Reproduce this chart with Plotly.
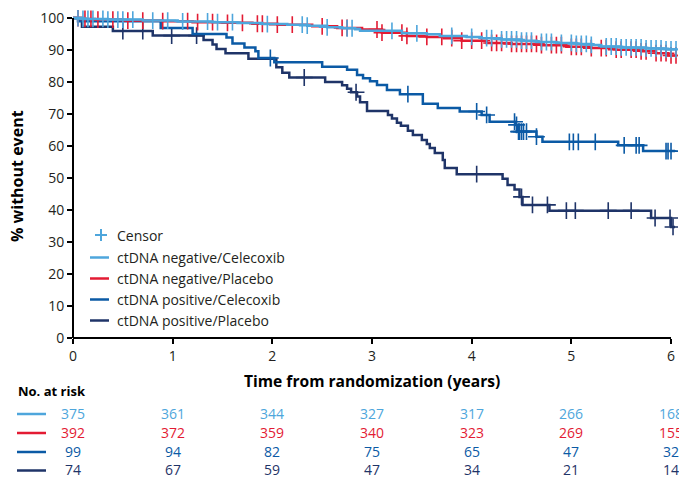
import numpy as np
import plotly.graph_objects as go

# ---------------- data ----------------
series_names = ["ctDNA negative/Celecoxib", "ctDNA negative/Placebo",
                "ctDNA positive/Celecoxib", "ctDNA positive/Placebo"]
series_colors = ["#4EA6DC", "#E31B33", "#0B5AA5", "#1F3468"]

neg_cel_t = [0.10, 0.35, 0.70, 1.05, 1.40, 1.65, 1.90, 2.15, 2.35, 2.55, 2.70, 2.83, 2.88,
             3.30, 3.55, 3.68, 3.95, 4.10, 4.30, 4.50, 4.65, 4.85, 5.05, 5.20, 5.30, 5.50,
             5.75, 5.95]
neg_cel_s = [99.7, 99.5, 99.2, 98.9, 98.7, 98.4, 98.1, 97.9, 97.6, 97.1, 96.8, 96.5, 96.0,
             95.2, 94.9, 94.4, 94.1, 93.7, 93.3, 92.9, 92.5, 92.2, 91.9, 91.6, 91.1, 90.8,
             90.5, 90.2]
neg_cel_cens = [0.05, 0.10, 0.15, 0.20, 0.30, 0.35, 0.45, 0.50, 0.60, 0.80, 0.95, 1.10, 1.35,
                1.45, 1.60, 1.95, 2.30, 2.35, 2.55, 2.75, 2.80, 3.20, 3.45, 3.80, 4.00, 4.15,
                4.20, 4.30, 4.35, 4.40, 4.45, 4.50, 4.55, 4.60, 4.70, 4.75, 4.80, 4.90, 5.00,
                5.05, 5.10, 5.15, 5.20, 5.35, 5.40, 5.45, 5.50, 5.55, 5.60, 5.65, 5.70, 5.75,
                5.80, 5.85, 5.90, 5.95, 6.00, 6.05]
neg_cel_end = 6.06

neg_pla_t = [0.08, 0.22, 0.50, 0.90, 1.20, 1.50, 1.80, 2.05, 2.40, 2.65, 2.90, 3.10, 3.35,
             3.55, 3.72, 3.90, 4.15, 4.40, 4.70, 4.95, 5.20, 5.45, 5.70, 5.85, 5.97]
neg_pla_s = [99.7, 99.5, 99.2, 99.0, 98.7, 98.5, 98.2, 97.9, 97.4, 96.9, 96.4, 95.4, 94.4,
             94.1, 93.7, 92.9, 92.2, 91.9, 91.5, 91.0, 90.6, 90.1, 89.6, 89.0, 88.3]
neg_pla_cens = [0.05, 0.12, 0.18, 0.25, 0.40, 0.55, 0.70, 0.90, 1.15, 1.25, 1.40, 1.55, 1.70,
                1.85, 1.90, 2.05, 2.20, 2.50, 2.70, 2.75, 3.05, 3.10, 3.30, 3.35, 3.55, 3.70,
                3.80, 3.90, 4.00, 4.10, 4.20, 4.25, 4.30, 4.40, 4.45, 4.50, 4.55, 4.60, 4.65,
                4.70, 4.80, 4.85, 4.90, 5.00, 5.05, 5.10, 5.20, 5.30, 5.35, 5.45, 5.50, 5.60,
                5.65, 5.70, 5.75, 5.85, 5.90, 5.95, 6.00, 6.05]
neg_pla_end = 6.06

pos_cel_t = [0.05, 0.88, 1.20, 1.54, 1.60, 1.72, 1.83, 1.86, 2.02, 2.50, 2.75, 2.85, 2.91,
             2.98, 3.05, 3.15, 3.28, 3.51, 3.66, 3.88, 4.10, 4.18, 4.44, 4.46, 4.65, 4.71,
             5.47, 5.72]
pos_cel_s = [99.0, 96.9, 95.0, 93.9, 92.0, 90.8, 89.6, 87.5, 86.2, 84.8, 83.8, 82.2, 81.2,
             80.2, 79.1, 77.5, 76.2, 73.2, 71.9, 70.8, 69.7, 67.6, 66.6, 64.5, 62.9, 61.3,
             60.2, 58.4]
pos_cel_cens = [1.98, 3.36, 4.05, 4.15, 4.43, 4.45, 4.47, 4.48, 4.50, 4.52, 4.55, 4.65, 4.98,
                5.02, 5.07, 5.24, 5.53, 5.65, 5.68, 5.95, 5.97, 6.00]
pos_cel_end = 6.04

pos_pla_t = [0.09, 0.40, 0.80, 1.31, 1.40, 1.44, 1.53, 1.76, 2.04, 2.10, 2.17, 2.53, 2.70,
             2.75, 2.79, 2.85, 2.88, 2.95, 3.16, 3.20, 3.25, 3.29, 3.36, 3.41, 3.50, 3.55,
             3.58, 3.63, 3.71, 3.73, 3.85, 4.31, 4.36, 4.43, 4.48, 4.51, 4.78, 5.80, 6.00]
pos_pla_s = [97.3, 95.9, 94.5, 93.1, 91.7, 90.3, 89.0, 87.3, 84.6, 82.9, 81.4, 80.0, 79.0,
             77.9, 76.8, 75.5, 73.7, 70.9, 69.7, 68.6, 67.3, 66.3, 64.8, 63.4, 61.9, 60.6,
             59.4, 57.8, 55.6, 53.1, 51.2, 49.8, 47.8, 46.4, 44.1, 41.6, 39.8, 37.5, 34.7]
pos_pla_cens = [0.50, 0.70, 0.99, 1.24, 2.32, 2.84, 4.05, 4.50, 4.61, 4.76, 4.95, 5.04, 5.37,
                5.60, 5.84, 5.99, 6.02]
pos_pla_end = 6.04

risk_times = [0, 1, 2, 3, 4, 5, 6]
risk_neg_cel = [375, 361, 344, 327, 317, 266, 168]
risk_neg_pla = [392, 372, 359, 340, 323, 269, 155]
risk_pos_cel = [99, 94, 82, 75, 65, 47, 32]
risk_pos_pla = [74, 67, 59, 47, 34, 21, 14]

y_ticks = list(range(0, 101, 10))
x_ticks = list(range(0, 7))

# ---------------- layout geometry ----------------
W, H = 679, 477
ML, MT = 73, 10
PW, PH = 605, 328
X_MAX = 6.07
Y_MAX = 102.5
FONT = "Open Sans"
TXT = "#231F20"


def pxx(p):
    return (p - ML) / PW


def pxy(p):
    return (MT + PH - p) / PH


fig = go.Figure()

curves = [
    (pos_pla_t, pos_pla_s, pos_pla_cens, pos_pla_end, 3),
    (pos_cel_t, pos_cel_s, pos_cel_cens, pos_cel_end, 2),
    (neg_pla_t, neg_pla_s, neg_pla_cens, neg_pla_end, 1),
    (neg_cel_t, neg_cel_s, neg_cel_cens, neg_cel_end, 0),
]
for t, s, cens, end, idx in curves:
    xs = [0.0] + list(t) + [end]
    ys = [100.0] + list(s) + [s[-1]]
    col = series_colors[idx]
    fig.add_trace(go.Scatter(x=xs, y=ys, mode="lines", line=dict(color=col, width=2.5, shape="hv"),
                             name=series_names[idx], showlegend=False, hoverinfo="skip"))
    steps_y = np.array([100.0] + list(s))
    ci = np.searchsorted(np.array(t), np.array(cens), side="right")
    fig.add_trace(go.Scatter(x=cens, y=steps_y[ci], mode="markers",
                             marker=dict(symbol="cross-thin", size=12,
                                         line=dict(color=col, width=1.6)),
                             showlegend=False, hoverinfo="skip"))

shapes = []
# axis lines
shapes.append(dict(type="line", xref="paper", yref="paper", x0=0, x1=0, y0=0, y1=100 / Y_MAX,
                   line=dict(color="black", width=2)))
shapes.append(dict(type="line", xref="paper", yref="paper", x0=0, x1=6 / X_MAX, y0=0, y1=0,
                   line=dict(color="black", width=2)))

annotations = []
# legend (inside plot)
leg_y = [235, 257.5, 278.5, 299.5, 320.5]
cx, cy = 101, leg_y[0]
shapes.append(dict(type="line", xref="paper", yref="paper", x0=pxx(cx - 6), x1=pxx(cx + 6),
                   y0=pxy(cy), y1=pxy(cy), line=dict(color=series_colors[0], width=2)))
shapes.append(dict(type="line", xref="paper", yref="paper", x0=pxx(cx), x1=pxx(cx),
                   y0=pxy(cy - 6), y1=pxy(cy + 6), line=dict(color=series_colors[0], width=2)))
annotations.append(dict(text="Censor", xref="paper", yref="paper", x=pxx(115), y=pxy(cy),
                        xanchor="left", yanchor="middle", showarrow=False,
                        font=dict(family=FONT, size=14, color=TXT)))
for i, nm in enumerate(series_names):
    yy = leg_y[i + 1]
    shapes.append(dict(type="line", xref="paper", yref="paper", x0=pxx(90), x1=pxx(109),
                       y0=pxy(yy), y1=pxy(yy), line=dict(color=series_colors[i], width=2.5)))
    annotations.append(dict(text=nm, xref="paper", yref="paper", x=pxx(115), y=pxy(yy),
                            xanchor="left", yanchor="middle", showarrow=False,
                            font=dict(family=FONT, size=14, color=TXT)))

# axis titles
annotations.append(dict(text="<b>% without event</b>", xref="paper", yref="paper",
                        x=pxx(17), y=pxy(176), textangle=-90, showarrow=False,
                        xanchor="center", yanchor="middle",
                        font=dict(family=FONT, size=16, color="black")))
annotations.append(dict(text="<b>Time from randomization (years)</b>", xref="paper", yref="paper",
                        x=pxx(372), y=pxy(381), showarrow=False, xanchor="center", yanchor="middle",
                        font=dict(family=FONT, size=15.6, color="black")))

# number at risk table
annotations.append(dict(text="<b>No. at risk</b>", xref="paper", yref="paper",
                        x=pxx(16), y=pxy(391), showarrow=False, xanchor="left", yanchor="middle",
                        font=dict(family=FONT, size=13, color="black")))
risk_rows = [risk_neg_cel, risk_neg_pla, risk_pos_cel, risk_pos_pla]
row_y = [413, 432, 451, 469.5]
for r, vals in enumerate(risk_rows):
    col = series_colors[r]
    shapes.append(dict(type="line", xref="paper", yref="paper", x0=pxx(17), x1=pxx(46),
                       y0=pxy(row_y[r] + 1), y1=pxy(row_y[r] + 1), line=dict(color=col, width=2.5)))
    for tt, v in zip(risk_times, vals):
        annotations.append(dict(text=str(v), xref="x", yref="paper", x=tt, y=pxy(row_y[r]),
                                xanchor="center", yanchor="middle", showarrow=False,
                                font=dict(family=FONT, size=14, color=col)))

fig.update_layout(
    width=W, height=H,
    margin=dict(l=ML, r=W - ML - PW, t=MT, b=H - MT - PH, autoexpand=False),
    paper_bgcolor="white", plot_bgcolor="white",
    showlegend=False,
    shapes=shapes, annotations=annotations,
    xaxis=dict(range=[0, X_MAX], tickvals=x_ticks, ticks="outside", ticklen=5, tickwidth=1.5,
               tickcolor="black", showgrid=False, zeroline=False, showline=False,
               tickfont=dict(family=FONT, size=14, color=TXT)),
    yaxis=dict(range=[0, Y_MAX], tickvals=y_ticks, ticks="outside", ticklen=5, tickwidth=1.5,
               tickcolor="black", showgrid=False, zeroline=False, showline=False,
               tickfont=dict(family=FONT, size=14, color=TXT)),
)

fig.write_html("out.html", config={"displayModeBar": False},
               post_script="document.body.style.margin='0';document.body.style.overflow='hidden';")
